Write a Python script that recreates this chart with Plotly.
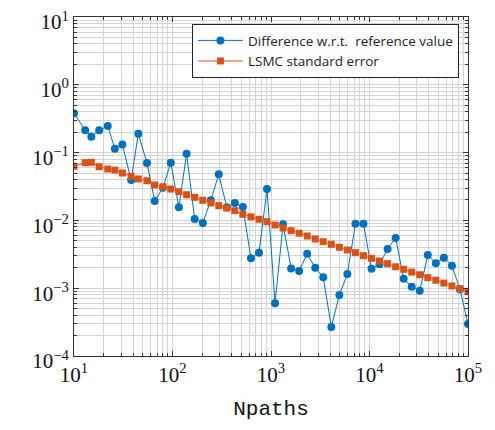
import plotly.graph_objects as go

npaths = [10, 13, 15, 18, 22, 26, 31, 38, 45, 55,
          66, 80, 96, 116, 139, 168, 203, 245, 295, 356,
          430, 518, 626, 755, 911, 1099, 1326, 1600, 1931, 2330,
          2812, 3394, 4095, 4942, 5964, 7197, 8686, 10482, 12650, 15265,
          18421, 22230, 26827, 32375, 39069, 47149, 56899, 68665, 82864, 100000]

diff_ref = [0.380, 0.213, 0.172, 0.213, 0.247, 0.114, 0.132, 0.0394, 0.190, 0.0703,
            0.0193, 0.0303, 0.0710, 0.0156, 0.0964, 0.0105, 0.00916, 0.0198, 0.0479, 0.0156,
            0.0181, 0.0158, 0.00276, 0.00334, 0.0290, 0.000598, 0.00875, 0.00196, 0.00179, 0.00323,
            0.00200, 0.00145, 0.000268, 0.000794, 0.00162, 0.00893, 0.00893, 0.00194, 0.00225, 0.00378,
            0.00550, 0.00138, 0.00105, 0.000918, 0.00309, 0.00233, 0.00282, 0.00215, 0.000964, 0.000296]

lsmc_se = [0.0628, 0.0710, 0.0719, 0.0619, 0.0573, 0.0553, 0.0500, 0.0447, 0.0408, 0.0385,
           0.0333, 0.0314, 0.0290, 0.0265, 0.0239, 0.0219, 0.0198, 0.0181, 0.0165, 0.0152,
           0.0139, 0.0123, 0.0113, 0.0104, 0.00957, 0.00855, 0.00773, 0.00705, 0.00645, 0.00589,
           0.00532, 0.00486, 0.00444, 0.00401, 0.00366, 0.00334, 0.00302, 0.00276, 0.00252, 0.00230,
           0.00207, 0.00190, 0.00173, 0.00158, 0.00143, 0.00131, 0.00119, 0.00108, 0.000984, 0.000899]

x_tickvals = [10, 100, 1000, 10000, 100000]
x_ticktext = ["10<sup>1</sup>", "10<sup>2</sup>", "10<sup>3</sup>", "10<sup>4</sup>", "10<sup>5</sup>"]
y_tickvals = [1e-4, 1e-3, 1e-2, 1e-1, 1, 10]
y_ticktext = ["10<sup>\u22124</sup>", "10<sup>\u22123</sup>", "10<sup>\u22122</sup>",
              "10<sup>\u22121</sup>", "10<sup>0</sup>", "10<sup>1</sup>"]

blue = "#0072BD"
orange = "#D95319"
grid = "#d4d4d4"

def minor_vals(lo_exp, hi_exp):
    out = []
    for e in range(lo_exp, hi_exp):
        for m in range(2, 10):
            out.append(m * 10 ** e)
    return out

fig = go.Figure()
fig.add_trace(go.Scatter(
    x=npaths, y=diff_ref, mode="lines+markers",
    name="Difference w.r.t.  reference value",
    line=dict(color=blue, width=1),
    marker=dict(symbol="circle", size=8, color=blue),
))
fig.add_trace(go.Scatter(
    x=npaths, y=lsmc_se, mode="lines+markers",
    name="LSMC standard error",
    line=dict(color=orange, width=1),
    marker=dict(symbol="square", size=7, color=orange),
))

axis_common = dict(
    showline=True, linecolor="#333333", linewidth=1, mirror="ticks",
    ticks="inside", ticklen=5, tickcolor="#333333", tickwidth=1,
    showgrid=True, gridcolor=grid, gridwidth=1,
    tickfont=dict(family="Liberation Serif", size=21, color="#111111"),
    ticklabeloverflow="allow",
    zeroline=False,
)

fig.update_xaxes(
    type="log", range=[1, 5],
    tickvals=x_tickvals, ticktext=x_ticktext,
    minor=dict(tickvals=minor_vals(1, 5), ticks="inside", ticklen=3,
               tickcolor="#333333", showgrid=True, gridcolor=grid, gridwidth=1),
    title=dict(text="Npaths", font=dict(family="Liberation Mono", size=21, color="#111111"),
               standoff=14),
    **axis_common,
)
fig.update_yaxes(
    type="log", range=[-4, 1],
    tickvals=y_tickvals, ticktext=y_ticktext,
    ticklabelshift=5,
    minor=dict(tickvals=minor_vals(-4, 1), ticks="inside", ticklen=3,
               tickcolor="#333333", showgrid=True, gridcolor=grid, gridwidth=1),
    **axis_common,
)

fig.update_layout(
    width=479, height=414,
    margin=dict(l=66, r=19, t=9, b=66, autoexpand=False),
    paper_bgcolor="white", plot_bgcolor="white",
    showlegend=True,
    legend=dict(
        x=0.977, y=0.979, xanchor="right", yanchor="top",
        bgcolor="white", bordercolor="#222222", borderwidth=1,
        font=dict(family="Open Sans", size=13.5, color="#222222"),
        tracegroupgap=0, itemwidth=45,
    ),
)

fig.write_html("out.html")
